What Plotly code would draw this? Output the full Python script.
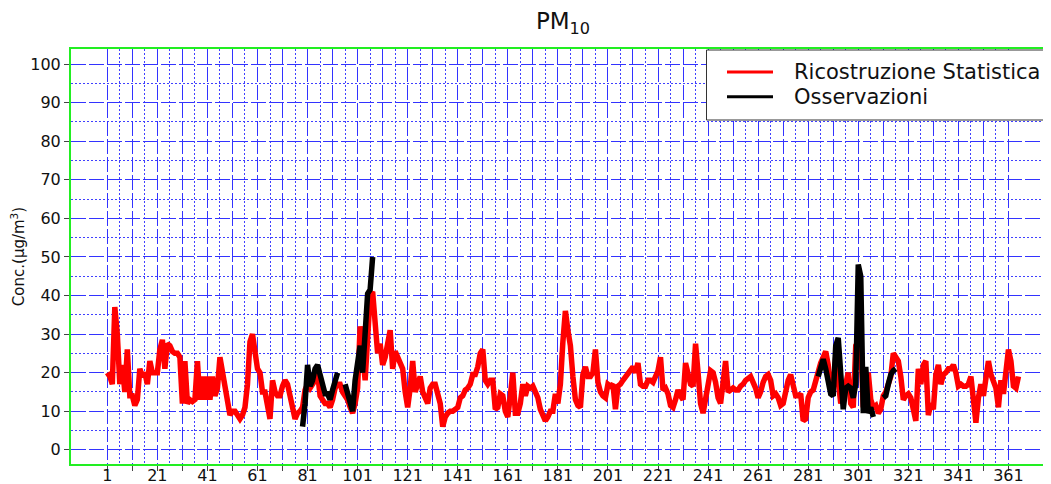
import plotly.graph_objects as go

# ---------------- data ----------------
days = list(range(1, 366))
recon = [
    20, 19, 17, 37, 30, 17, 22, 15, 26, 14,
    14, 11.5, 13, 21, 19, 20, 17, 23, 20, 20,
    20, 26, 28.5, 21, 27.5, 27, 25.5, 25, 25, 24,
    12, 23, 12, 13, 12.5, 13, 23, 13, 19, 13,
    19, 13, 19, 14, 16, 24, 20, 15, 12, 9,
    10, 10, 9, 8, 9, 11, 17, 28, 30, 26,
    21, 20, 15, 15, 11, 8, 18, 15, 14, 14,
    16.5, 18, 17, 14, 12.5, 8, 9.5, 10, 11, 15.5,
    17, 16, 17, 18, 20, 14, 13, 12, 12, 11,
    13, 16, 17, 17, 15, 14, 13, 11, 9.5, 12,
    16, 32, 26, 18, 29, 40, 41, 31, 25, 27.5,
    22, 24, 28, 31, 21, 25.5, 24, 22, 21, 15,
    11, 16, 23, 15, 17, 19, 15, 13, 12, 16,
    17, 17, 14, 12, 6, 8.5, 9.5, 10, 10, 10.5,
    11, 13.5, 14, 15.5, 16, 17, 19.5, 19.5, 21.5, 25,
    26, 18, 17, 18, 18, 10.5, 11, 14.5, 14, 10,
    8.5, 14, 20, 9.5, 9.5, 12, 17, 14, 16.5, 16,
    16.5, 15, 13.5, 10.5, 8.5, 7.5, 8.5, 10, 10, 14.5,
    12, 17, 28, 36, 31, 27, 19, 13, 11.5, 11,
    19.5, 21.5, 19, 19, 20, 26, 17.5, 15, 14, 13.5,
    17, 16.5, 17, 10.5, 16.5, 17, 18, 19, 19.5, 20.5,
    21.5, 20, 22.5, 17, 16.5, 16.5, 18, 18, 17.5, 19,
    20.5, 24, 15.5, 16, 14.5, 11.5, 11, 13, 15.5, 14,
    13, 22.5, 20, 17, 16.5, 27.5, 20, 12, 9.5, 13,
    15.5, 20.5, 20, 17.5, 13.5, 12, 17.5, 23, 15, 15.5,
    16, 15.5, 15.5, 16.5, 17, 18, 18.5, 19, 17.5, 16,
    13.5, 15, 17.5, 19, 19.5, 18, 14, 14.5, 13.5, 11.5,
    12, 15.5, 18, 19.5, 16, 14, 14, 14.5, 7.5, 8,
    13.5, 15, 15.5, 18, 20, 22.5, 24, 25.5, 22, 15.5,
    16, 24, 18, 12, 14, 16.5, 20, 12, 11, 27,
    28, 27.5, 11, 14, 20, 13, 11, 11.5, 9.5, 10.5,
    14, 15, 17, 19, 25, 24, 23, 19, 13, 14,
    14.5, 13.5, 10, 7.5, 21, 17, 22, 23, 9, 12,
    10.5, 19.5, 22, 17, 19.5, 20, 21, 21, 22, 20,
    16.5, 17, 16.5, 16.5, 17, 19, 13, 7, 13.5, 17,
    14, 18, 23, 19.5, 18, 16, 11, 18, 14.5, 20,
    26, 23, 16.5, 16, 19,
]

# observation days (None marks a missing observation -> gap in the line)
obs_days = list(range(79, 109)) + list(range(285, 317))
obs = [
    6, 12, 22, 16.5, 18, 21, 22, 19, 17, 14.5, 14.5, 13, 15.5, 17.5, 20,   # 79-93
    None, None,                                                            # 94-95
    17, 14.5, 12, 10, 18, 22, 27, 20, 29, 40.5, 41.5, 50,                  # 96-107
    None,                                                                  # 108
    19, 21, 23.5, 21, 17, 14.5, 14, 27, 29, 18, 10.5, 16, 16.5, 16,        # 285-298
    13.5, 17, 48, 45, 9.5, 21.5, 9.5, 11, 8.5,                             # 299-307
    None, None, None,                                                      # 308-310
    13.5, 14, 17, 19.5, 20.5, 21,                                          # 311-316
]

series_names = ["Ricostruzione Statistica", "Osservazioni"]
title_text = "PM<sub>10</sub>"
ytitle_text = "Conc.(μg/m<sup>3</sup>)"

x_major = list(range(1, 362, 10))
x_labels = [str(v) if (v - 1) % 20 == 0 else "" for v in x_major]
x_minor = list(range(6, 362, 10))
y_major = list(range(0, 101, 10))
y_minor = list(range(5, 100, 10))

# ---------------- figure ----------------
FONT = "DejaVu Sans, Verdana, sans-serif"
GRID = "#3333ff"
GRID_MINOR = "#4040ff"
TXT = "#111111"

fig = go.Figure()
fig.add_trace(go.Scatter(x=days, y=recon, mode="lines", name=series_names[0],
                         line=dict(color="#ff0000", width=5.5), showlegend=False))
fig.add_trace(go.Scatter(x=obs_days, y=obs, mode="lines", name=series_names[1],
                         connectgaps=False,
                         line=dict(color="#000000", width=5.5), showlegend=False))

# the page places the figure 8 px from the top-left corner of the window
OFF = 8
W, H = 1051 - OFF, 484 - OFF
L, T = 71 - OFF, 49 - OFF          # plot area left / top in figure pixels
R = 0
B = H - (464 - OFF)                 # plot area bottom at window y = 464
pw, ph = W - L - R, H - T - B


def px(xw):
    """window x pixel -> paper x"""
    return (xw - OFF - L) / pw


def py(yw):
    """window y pixel -> paper y"""
    return (H - B - (yw - OFF)) / ph


fig.update_layout(
    template="none",
    width=W, height=H,
    margin=dict(l=L, r=R, t=T, b=B, pad=0, autoexpand=False),
    paper_bgcolor="white", plot_bgcolor="white",
    font=dict(family=FONT, color=TXT),
    title=dict(text=title_text, x=px(563), xref="paper", xanchor="center",
               y=1 - (21 - OFF) / H, yref="container", yanchor="middle",
               font=dict(size=23, color=TXT, family=FONT)),
    xaxis=dict(range=[-13.5, 378.0], tickmode="array", tickvals=x_major, ticktext=x_labels,
               automargin=False,
               showgrid=True, gridcolor=GRID, gridwidth=1, griddash="15px,3px",
               zeroline=False, showline=True, linecolor="#22ee22", linewidth=2, mirror=True,
               ticks="outside", ticklen=5, tickcolor="#444444", tickwidth=1,
               ticklabelstandoff=-9,
               tickfont=dict(size=16, family=FONT, color=TXT),
               minor=dict(tickmode="array", tickvals=x_minor, showgrid=True, gridcolor=GRID_MINOR,
                          gridwidth=1, griddash="2px,2px", ticks="")),
    yaxis=dict(range=[-3.68, 103.9], tickmode="array", tickvals=y_major,
               automargin=False,
               showgrid=True, gridcolor=GRID, gridwidth=1, griddash="15px,3px",
               zeroline=False, showline=True, linecolor="#22ee22", linewidth=2, mirror=False,
               ticks="outside", ticklen=5, tickcolor="#444444", tickwidth=1,
               tickfont=dict(size=16, family=FONT, color=TXT),
               title=dict(text=ytitle_text, font=dict(size=15, family=FONT, color=TXT),
                          standoff=6),
               minor=dict(tickmode="array", tickvals=y_minor, showgrid=True, gridcolor=GRID_MINOR,
                          gridwidth=1, griddash="2px,2px", ticks="")),
)

# legend box (drawn manually to reproduce the original layout)
fig.add_shape(type="rect", xref="paper", yref="paper",
              x0=px(706.5), x1=1.03, y0=py(120), y1=py(50),
              line=dict(color="#333333", width=1), fillcolor="white", layer="above")
legend_rows = [(72.0, "#ff0000", series_names[0]), (96.7, "#000000", series_names[1])]
for yy, col, name in legend_rows:
    fig.add_shape(type="line", xref="paper", yref="paper",
                  x0=px(727), x1=px(773), y0=py(yy), y1=py(yy),
                  line=dict(color=col, width=3), layer="above")
    fig.add_annotation(xref="paper", yref="paper", x=px(792), y=py(yy),
                       xanchor="left", yanchor="middle", text=name, showarrow=False,
                       font=dict(size=21, family=FONT, color=TXT))

fig.write_html("out.html")
